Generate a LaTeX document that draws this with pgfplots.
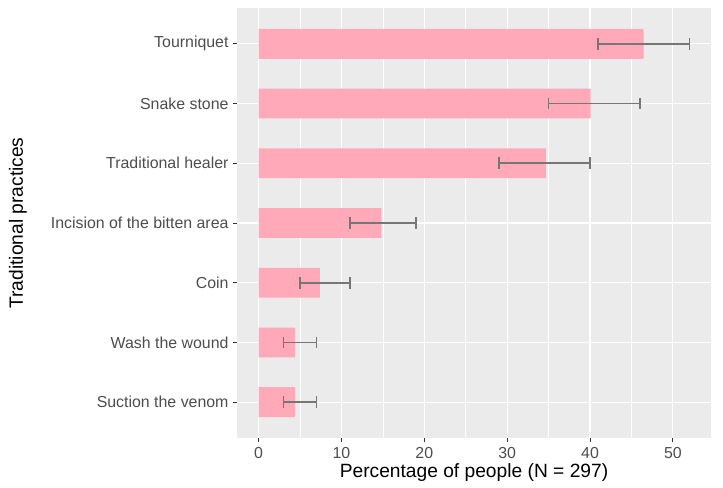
\documentclass[border=0pt]{standalone}
\usepackage{pgfplots}
\pgfplotsset{compat=1.18}
\usepackage{fontspec}
\setmainfont{Liberation Sans}
\definecolor{panel}{HTML}{EBEBEB}
\definecolor{barpink}{HTML}{FFA9B9}
\definecolor{tickgray}{HTML}{4D4D4D}
\definecolor{tickmk}{HTML}{333333}
\definecolor{errgray}{HTML}{767676}
\pgfplotstableread{
x y
3 1
7 1
nan nan
3 2
7 2
nan nan
5 3
11 3
nan nan
11 4
19 4
nan nan
29 5
40 5
nan nan
35 6
46 6
nan nan
41 7
52 7
}\errtable
\begin{document}
\begin{tikzpicture}
\useasboundingbox (-237bp,-50bp) rectangle (486bp,438bp);
\begin{axis}[
  scale only axis,
  width=474bp, height=430bp,
  at={(0,0)}, anchor=south west,
  xmin=-2.6, xmax=54.6,
  ymin=0.4, ymax=7.6,
  axis background/.style={fill=panel},
  axis line style={draw=none},
  xtick={0,10,20,30,40,50},
  minor xtick={5,15,25,35,45},
  ytick={1,2,3,4,5,6,7},
  yticklabels={Suction the venom,Wash the wound,Coin,Incision of the bitten area,Traditional healer,Snake stone,Tourniquet},
  xmajorgrids, xminorgrids, ymajorgrids,
  major grid style={white, line width=1.1bp},
  minor grid style={white, line width=0.55bp},
  tick pos=left,
  tick align=outside,
  major tick length=4bp,
  minor tick length=0pt,
  tick style={tickmk, line width=0.8bp},
  ticklabel style={font=\fontsize{15.9bp}{18bp}\selectfont, color=tickgray, inner sep=1bp},
  xticklabel style={yshift=-4bp},
  yticklabel style={xshift=-3.3bp},
  /pgf/number format/assume math mode=true,
  xlabel={Percentage of people (N = 297)},
  ylabel={Traditional practices},
  every axis x label/.style={at={(axis description cs:0.5,-0.0907)}, anchor=base, inner sep=0pt, font=\fontsize{19.2bp}{22bp}\selectfont},
  every axis y label/.style={at={(axis description cs:-0.462,0.5)}, rotate=90, anchor=center, inner sep=0pt, font=\fontsize{19.2bp}{22bp}\selectfont},
  clip=false,
  unbounded coords=jump,
]
\addplot[xbar, bar width=0.5, fill=barpink, draw=none] coordinates {
  (4.38,1) (4.38,2) (7.41,3) (14.81,4) (34.68,5) (40.07,6) (46.46,7)
};
\addplot[draw=errgray, line width=1.8bp, mark=|, mark size=5.8bp,
  mark options={draw=errgray, line width=1.8bp}, forget plot]
  table[x=x, y=y] {\errtable};
\end{axis}
\end{tikzpicture}
\end{document}
